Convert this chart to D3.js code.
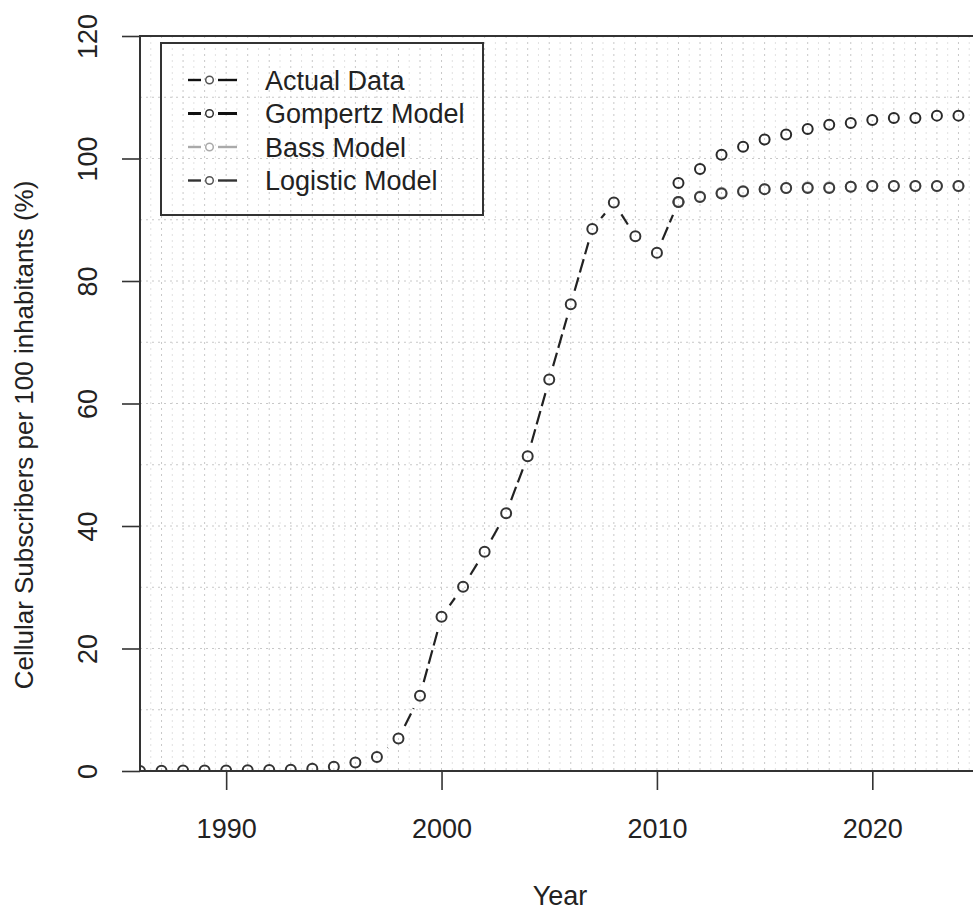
<!DOCTYPE html>
<html>
<head>
<meta charset="utf-8">
<script src="https://cdn.jsdelivr.net/npm/d3@7"></script>
<style>
  html, body { margin: 0; padding: 0; background: #fff; }
  svg { display: block; }
  text { font-family: "Liberation Sans", Arial, sans-serif; fill: #222; }
</style>
</head>
<body>
<svg id="chart" width="973" height="914"></svg>
<script>
// Observed subscribers per 100 inhabitants
const actualYears = [1986, 1987, 1988, 1989, 1990, 1991, 1992, 1993, 1994, 1995, 1996, 1997, 1998,
                     1999, 2000, 2001, 2002, 2003, 2004, 2005, 2006, 2007, 2008, 2009, 2010, 2011];
const actualValues = [0.0, 0.05, 0.08, 0.1, 0.1, 0.12, 0.15, 0.2, 0.35, 0.7, 1.4, 2.3, 5.3,
                      12.3, 25.2, 30.1, 35.8, 42.1, 51.4, 63.9, 76.2, 88.5, 92.8, 87.3, 84.6, 92.9];

// Forecast horizon of the fitted diffusion models
const modelYears = [2011, 2012, 2013, 2014, 2015, 2016, 2017, 2018, 2019, 2020, 2021, 2022, 2023, 2024, 2025];
const gompertzValues = [96.0, 98.3, 100.6, 101.9, 103.1, 103.9, 104.8, 105.5, 105.8, 106.3, 106.6, 106.6, 107.0, 107.0, 107.1];
const bassValues     = [92.9, 93.8, 94.4, 94.7, 95.0, 95.2, 95.3, 95.3, 95.4, 95.5, 95.5, 95.5, 95.5, 95.5, 95.5];
const logisticValues = [92.9, 93.7, 94.3, 94.6, 95.0, 95.2, 95.2, 95.2, 95.4, 95.5, 95.5, 95.5, 95.5, 95.5, 95.5];

const xTicks = [1990, 2000, 2010, 2020];
const yTicks = [0, 20, 40, 60, 80, 100, 120];
const legendLabels = ["Actual Data", "Gompertz Model", "Bass Model", "Logistic Model"];

const svg = d3.select("#chart");
const plotLeft = 140, plotRight = 980, plotTop = 36, plotBottom = 771;

const x = d3.scaleLinear().domain([1986, 2025]).range([plotLeft, plotRight]);
const y = d3.scaleLinear().domain([0, 120]).range([plotBottom, plotTop]);

svg.append("defs").append("clipPath").attr("id", "plotClip")
  .append("rect").attr("x", plotLeft).attr("y", plotTop)
  .attr("width", plotRight - plotLeft).attr("height", plotBottom - plotTop);

// dotted background grid
const grid = svg.append("g").attr("clip-path", "url(#plotClip)");
const yearGrid = d3.range(1986, 2026, 0.5);
grid.selectAll("line.vg").data(yearGrid).join("line")
  .attr("x1", d => x(d)).attr("x2", d => x(d))
  .attr("y1", plotTop).attr("y2", plotBottom)
  .attr("stroke", d => Number.isInteger(d) ? "#c8c8c8" : "#e2e2e2")
  .attr("stroke-width", 1)
  .attr("stroke-dasharray", "2,4");
grid.selectAll("line.hg").data(d3.range(10, 120, 10)).join("line")
  .attr("x1", plotLeft).attr("x2", plotRight)
  .attr("y1", d => y(d)).attr("y2", d => y(d))
  .attr("stroke", "#c8c8c8")
  .attr("stroke-width", 1)
  .attr("stroke-dasharray", "2,4");

// axes
const xAxis = svg.append("g").attr("transform", `translate(0,${plotBottom})`)
  .call(d3.axisBottom(x).tickValues(xTicks).tickFormat(d3.format("d"))
        .tickSize(19).tickPadding(29).tickSizeOuter(0));
xAxis.select(".domain").remove();
xAxis.selectAll("line").attr("stroke", "#333").attr("stroke-width", 1.6);
xAxis.selectAll("text").style("font-size", "27px").attr("fill", "#222");

const yAxis = svg.append("g").attr("transform", `translate(${plotLeft},0)`)
  .call(d3.axisLeft(y).tickValues(yTicks).tickSize(18).tickSizeOuter(0));
yAxis.select(".domain").remove();
yAxis.selectAll("line").attr("stroke", "#333").attr("stroke-width", 1.6);
yAxis.selectAll("text")
  .attr("x", null).attr("dy", null)
  .attr("text-anchor", "middle")
  .attr("transform", "translate(-43,0) rotate(-90)")
  .style("font-size", "27px").attr("fill", "#222");

// plot frame
svg.append("rect").attr("x", plotLeft).attr("y", plotTop)
  .attr("width", plotRight - plotLeft).attr("height", plotBottom - plotTop)
  .attr("fill", "none").attr("stroke", "#333").attr("stroke-width", 2);

// axis titles
svg.append("text").attr("x", (plotLeft + plotRight) / 2).attr("y", 905)
  .attr("text-anchor", "middle").style("font-size", "27px").text("Year");
svg.append("text")
  .attr("transform", "translate(33,435) rotate(-90)")
  .attr("text-anchor", "middle").style("font-size", "26px")
  .text("Cellular Subscribers per 100 inhabitants (%)");

const plot = svg.append("g").attr("clip-path", "url(#plotClip)");

// "both" style line: each segment is trimmed back from the point markers
function gappedSegments(xs, vs, gap) {
  const segs = [];
  for (let i = 0; i < xs.length - 1; i++) {
    const x1 = x(xs[i]), y1 = y(vs[i]), x2 = x(xs[i + 1]), y2 = y(vs[i + 1]);
    const len = Math.hypot(x2 - x1, y2 - y1);
    if (len <= 2 * gap) continue;
    const ux = (x2 - x1) / len, uy = (y2 - y1) / len;
    segs.push([x1 + ux * gap, y1 + uy * gap, x2 - ux * gap, y2 - uy * gap]);
  }
  return segs;
}

plot.selectAll("line.actual").data(gappedSegments(actualYears, actualValues, 14)).join("line")
  .attr("x1", d => d[0]).attr("y1", d => d[1]).attr("x2", d => d[2]).attr("y2", d => d[3])
  .attr("stroke", "#222").attr("stroke-width", 2.2)
  .attr("stroke-dasharray", "14,5");

function drawPoints(xs, vs, color, width) {
  plot.append("g").selectAll("circle").data(xs.map((d, i) => [d, vs[i]])).join("circle")
    .attr("cx", d => x(d[0])).attr("cy", d => y(d[1])).attr("r", 5)
    .attr("fill", "none").attr("stroke", color).attr("stroke-width", width);
}
drawPoints(actualYears, actualValues, "#333", 2);
drawPoints(modelYears, bassValues, "#aaa", 2);
drawPoints(modelYears, logisticValues, "#3a3a3a", 2);
drawPoints(modelYears, gompertzValues, "#2a2a2a", 2);

// legend
const legend = svg.append("g");
legend.append("rect").attr("x", 161).attr("y", 43).attr("width", 322).attr("height", 172)
  .attr("fill", "none").attr("stroke", "#333").attr("stroke-width", 2);
const legendLine = ["#111", "#111", "#aaa", "#333"];
const legendPoint = ["#555", "#333", "#aaa", "#555"];
const legendWidth = [2.4, 3, 2.4, 2.4];
legendLabels.forEach((label, i) => {
  const cy = 80 + i * 33.5;
  const g = legend.append("g");
  [[188, 201], [218, 237]].forEach(([a, b]) => {
    g.append("line").attr("x1", a).attr("x2", b).attr("y1", cy).attr("y2", cy)
      .attr("stroke", legendLine[i]).attr("stroke-width", legendWidth[i]);
  });
  g.append("circle").attr("cx", 209.5).attr("cy", cy).attr("r", 3.8)
    .attr("fill", "none").attr("stroke", legendPoint[i]).attr("stroke-width", 1.5);
  g.append("text").attr("x", 265).attr("y", cy).attr("dy", "0.36em")
    .style("font-size", "27px").text(label);
});
</script>
</body>
</html>
